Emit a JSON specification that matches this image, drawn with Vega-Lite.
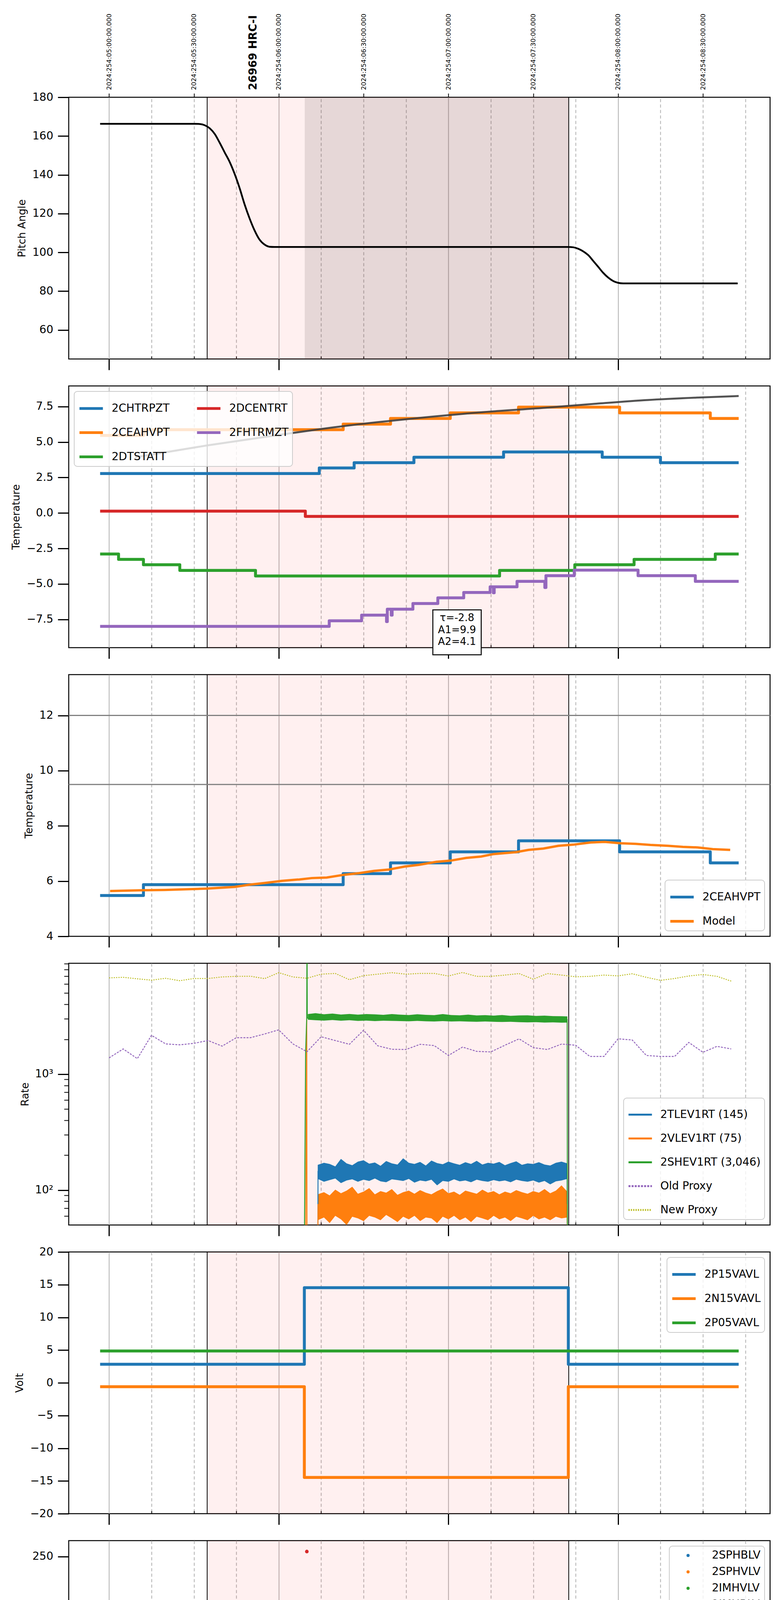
{
  "$schema": "https://vega.github.io/schema/vega-lite/v6.json",
  "padding": {"left": 26, "top": 33, "right": 10, "bottom": 5},
  "spacing": 69,
  "bounds": "flush",
  "resolve": {"scale": {"color": "independent", "strokeDash": "independent", "x": "independent", "y": "independent"}},
  "datasets": {
    "span": [{"t": 94.7, "t2": 222.55}],
    "dark": [{"t": 129.2, "t2": 222.55}],
    "edges": [{"t": 94.7}, {"t": 222.55}],
    "obs": [{"t": 111.1, "v": 183.7, "label": "26969 HRC-I"}],
    "pitch": [
      {"t": 56.84, "v": 166.3}, {"t": 90.3, "v": 166.3}, {"t": 92.1, "v": 166.2}, {"t": 93.8, "v": 165.6},
      {"t": 95.6, "v": 164.0}, {"t": 97.4, "v": 161.0}, {"t": 99.1, "v": 156.6}, {"t": 100.9, "v": 151.5},
      {"t": 102.6, "v": 146.8}, {"t": 104.4, "v": 140.5}, {"t": 106.2, "v": 133.0}, {"t": 107.9, "v": 124.9},
      {"t": 109.7, "v": 117.5}, {"t": 111.4, "v": 111.5}, {"t": 113.2, "v": 106.6}, {"t": 115.0, "v": 104.0},
      {"t": 116.7, "v": 102.9}, {"t": 118.5, "v": 102.8}, {"t": 222.4, "v": 102.8}, {"t": 224.2, "v": 102.6},
      {"t": 226.0, "v": 101.8}, {"t": 227.7, "v": 100.5}, {"t": 229.5, "v": 98.5}, {"t": 231.2, "v": 95.6},
      {"t": 233.0, "v": 92.5}, {"t": 234.7, "v": 89.5}, {"t": 236.5, "v": 87.0}, {"t": 238.3, "v": 85.2},
      {"t": 240.0, "v": 84.3}, {"t": 241.8, "v": 84.0}, {"t": 282.3, "v": 84.0}
    ],
    "temps": [
      {"t": 56.84, "v": 2.78, "s": "2CHTRPZT"}, {"t": 134.34, "v": 3.17, "s": "2CHTRPZT"}, {"t": 146.67, "v": 3.54, "s": "2CHTRPZT"},
      {"t": 167.81, "v": 3.93, "s": "2CHTRPZT"}, {"t": 199.51, "v": 4.3, "s": "2CHTRPZT"}, {"t": 234.39, "v": 3.93, "s": "2CHTRPZT"},
      {"t": 254.99, "v": 3.54, "s": "2CHTRPZT"}, {"t": 282.65, "v": 3.54, "s": "2CHTRPZT"},
      {"t": 56.84, "v": 5.46, "s": "2CEAHVPT"}, {"t": 72.16, "v": 5.87, "s": "2CEAHVPT"}, {"t": 142.79, "v": 6.26, "s": "2CEAHVPT"},
      {"t": 159.53, "v": 6.66, "s": "2CEAHVPT"}, {"t": 180.66, "v": 7.05, "s": "2CEAHVPT"}, {"t": 204.8, "v": 7.46, "s": "2CEAHVPT"},
      {"t": 240.55, "v": 7.05, "s": "2CEAHVPT"}, {"t": 272.61, "v": 6.66, "s": "2CEAHVPT"}, {"t": 282.65, "v": 6.66, "s": "2CEAHVPT"},
      {"t": 56.84, "v": -2.89, "s": "2DTSTATT"}, {"t": 63.36, "v": -3.27, "s": "2DTSTATT"}, {"t": 72.16, "v": -3.65, "s": "2DTSTATT"},
      {"t": 85.02, "v": -4.05, "s": "2DTSTATT"}, {"t": 111.79, "v": -4.44, "s": "2DTSTATT"}, {"t": 198.1, "v": -4.05, "s": "2DTSTATT"},
      {"t": 224.7, "v": -3.65, "s": "2DTSTATT"}, {"t": 245.66, "v": -3.27, "s": "2DTSTATT"}, {"t": 274.37, "v": -2.89, "s": "2DTSTATT"},
      {"t": 282.65, "v": -2.89, "s": "2DTSTATT"},
      {"t": 56.84, "v": 0.13, "s": "2DCENTRT"}, {"t": 129.41, "v": -0.24, "s": "2DCENTRT"}, {"t": 282.65, "v": -0.24, "s": "2DCENTRT"},
      {"t": 56.84, "v": -7.99, "s": "2FHTRMZT"}, {"t": 137.86, "v": -7.6, "s": "2FHTRMZT"}, {"t": 149.31, "v": -7.2, "s": "2FHTRMZT"},
      {"t": 158.12, "v": -7.65, "s": "2FHTRMZT"}, {"t": 158.4, "v": -6.78, "s": "2FHTRMZT"}, {"t": 159.8, "v": -7.2, "s": "2FHTRMZT"},
      {"t": 160.1, "v": -6.78, "s": "2FHTRMZT"}, {"t": 167.45, "v": -6.38, "s": "2FHTRMZT"}, {"t": 176.26, "v": -5.98, "s": "2FHTRMZT"},
      {"t": 185.42, "v": -5.6, "s": "2FHTRMZT"}, {"t": 194.76, "v": -5.2, "s": "2FHTRMZT"}, {"t": 195.9, "v": -5.62, "s": "2FHTRMZT"},
      {"t": 196.2, "v": -5.2, "s": "2FHTRMZT"}, {"t": 204.27, "v": -4.82, "s": "2FHTRMZT"}, {"t": 214.1, "v": -5.25, "s": "2FHTRMZT"},
      {"t": 214.49, "v": -4.42, "s": "2FHTRMZT"}, {"t": 224.5, "v": -4.03, "s": "2FHTRMZT"}, {"t": 247.07, "v": -4.42, "s": "2FHTRMZT"},
      {"t": 267.32, "v": -4.82, "s": "2FHTRMZT"}, {"t": 282.65, "v": -4.82, "s": "2FHTRMZT"}
    ],
    "fit": [
      {"t": 69.17, "v": 3.92}, {"t": 94.71, "v": 4.76}, {"t": 121.13, "v": 5.53}, {"t": 144.91, "v": 6.17},
      {"t": 167.81, "v": 6.66}, {"t": 190.7, "v": 7.08}, {"t": 215.36, "v": 7.43}, {"t": 232.98, "v": 7.71},
      {"t": 250.59, "v": 7.96}, {"t": 268.21, "v": 8.13}, {"t": 282.65, "v": 8.24}
    ],
    "note": [{"t": 174.5, "t2": 191.6, "v": -6.83, "v2": -9.99, "tc": 183.05, "vc": -7.05, "label": "τ=-2.8\nA1=9.9\nA2=4.1"}],
    "limits": [{"v": 12}, {"v": 9.5}],
    "ceah": [
      {"t": 56.84, "v": 5.48, "s": "2CEAHVPT"}, {"t": 72.16, "v": 5.87, "s": "2CEAHVPT"}, {"t": 142.79, "v": 6.27, "s": "2CEAHVPT"},
      {"t": 159.53, "v": 6.66, "s": "2CEAHVPT"}, {"t": 180.66, "v": 7.06, "s": "2CEAHVPT"}, {"t": 204.8, "v": 7.46, "s": "2CEAHVPT"},
      {"t": 240.55, "v": 7.06, "s": "2CEAHVPT"}, {"t": 272.61, "v": 6.66, "s": "2CEAHVPT"}, {"t": 282.65, "v": 6.66, "s": "2CEAHVPT"},
      {"t": 60.36, "v": 5.64, "s": "Model"}, {"t": 72.16, "v": 5.67, "s": "Model"}, {"t": 79.74, "v": 5.68, "s": "Model"},
      {"t": 94.71, "v": 5.73, "s": "Model"}, {"t": 104.4, "v": 5.79, "s": "Model"}, {"t": 109.68, "v": 5.87, "s": "Model"},
      {"t": 114.96, "v": 5.93, "s": "Model"}, {"t": 121.13, "v": 6.01, "s": "Model"}, {"t": 127.29, "v": 6.06, "s": "Model"},
      {"t": 131.7, "v": 6.11, "s": "Model"}, {"t": 136.98, "v": 6.13, "s": "Model"}, {"t": 143.14, "v": 6.23, "s": "Model"},
      {"t": 148.43, "v": 6.29, "s": "Model"}, {"t": 153.72, "v": 6.37, "s": "Model"}, {"t": 159.0, "v": 6.42, "s": "Model"},
      {"t": 164.64, "v": 6.53, "s": "Model"}, {"t": 169.57, "v": 6.59, "s": "Model"}, {"t": 175.73, "v": 6.7, "s": "Model"},
      {"t": 180.66, "v": 6.74, "s": "Model"}, {"t": 186.3, "v": 6.84, "s": "Model"}, {"t": 191.58, "v": 6.89, "s": "Model"},
      {"t": 195.99, "v": 6.98, "s": "Model"}, {"t": 203.9, "v": 7.05, "s": "Model"}, {"t": 208.32, "v": 7.13, "s": "Model"},
      {"t": 213.6, "v": 7.18, "s": "Model"}, {"t": 218.89, "v": 7.28, "s": "Model"}, {"t": 224.17, "v": 7.32, "s": "Model"},
      {"t": 230.33, "v": 7.4, "s": "Model"}, {"t": 235.27, "v": 7.42, "s": "Model"}, {"t": 240.9, "v": 7.37, "s": "Model"},
      {"t": 246.19, "v": 7.35, "s": "Model"}, {"t": 251.47, "v": 7.31, "s": "Model"}, {"t": 257.64, "v": 7.28, "s": "Model"},
      {"t": 262.92, "v": 7.24, "s": "Model"}, {"t": 268.21, "v": 7.22, "s": "Model"}, {"t": 273.49, "v": 7.16, "s": "Model"},
      {"t": 279.65, "v": 7.13, "s": "Model"}
    ],
    "bands": [
      {"t": 133.8, "hi": 165, "lo": 125, "s": "b"}, {"t": 136, "hi": 172, "lo": 118, "s": "b"}, {"t": 138, "hi": 168, "lo": 122, "s": "b"},
      {"t": 140, "hi": 160, "lo": 126, "s": "b"}, {"t": 142, "hi": 186, "lo": 115, "s": "b"}, {"t": 144, "hi": 170, "lo": 121, "s": "b"},
      {"t": 146, "hi": 164, "lo": 124, "s": "b"}, {"t": 148, "hi": 176, "lo": 118, "s": "b"}, {"t": 150, "hi": 181, "lo": 123, "s": "b"},
      {"t": 152, "hi": 169, "lo": 120, "s": "b"}, {"t": 154, "hi": 173, "lo": 126, "s": "b"}, {"t": 156, "hi": 162, "lo": 119, "s": "b"},
      {"t": 158, "hi": 178, "lo": 117, "s": "b"}, {"t": 160, "hi": 170, "lo": 124, "s": "b"}, {"t": 162, "hi": 166, "lo": 122, "s": "b"},
      {"t": 164, "hi": 188, "lo": 120, "s": "b"}, {"t": 166, "hi": 172, "lo": 125, "s": "b"}, {"t": 168, "hi": 168, "lo": 116, "s": "b"},
      {"t": 170, "hi": 175, "lo": 121, "s": "b"}, {"t": 172, "hi": 163, "lo": 119, "s": "b"}, {"t": 174, "hi": 180, "lo": 123, "s": "b"},
      {"t": 176, "hi": 171, "lo": 110, "s": "b"}, {"t": 178, "hi": 167, "lo": 120, "s": "b"}, {"t": 180, "hi": 176, "lo": 118, "s": "b"},
      {"t": 182, "hi": 170, "lo": 124, "s": "b"}, {"t": 184, "hi": 165, "lo": 119, "s": "b"}, {"t": 186, "hi": 174, "lo": 121, "s": "b"},
      {"t": 188, "hi": 168, "lo": 117, "s": "b"}, {"t": 190, "hi": 179, "lo": 123, "s": "b"}, {"t": 192, "hi": 166, "lo": 120, "s": "b"},
      {"t": 194, "hi": 172, "lo": 118, "s": "b"}, {"t": 196, "hi": 169, "lo": 122, "s": "b"}, {"t": 198, "hi": 175, "lo": 119, "s": "b"},
      {"t": 200, "hi": 164, "lo": 121, "s": "b"}, {"t": 202, "hi": 171, "lo": 117, "s": "b"}, {"t": 204, "hi": 177, "lo": 123, "s": "b"},
      {"t": 206, "hi": 165, "lo": 120, "s": "b"}, {"t": 208, "hi": 170, "lo": 118, "s": "b"}, {"t": 210, "hi": 168, "lo": 121, "s": "b"},
      {"t": 212, "hi": 174, "lo": 116, "s": "b"}, {"t": 214, "hi": 166, "lo": 120, "s": "b"}, {"t": 216, "hi": 163, "lo": 112, "s": "b"},
      {"t": 218, "hi": 172, "lo": 119, "s": "b"}, {"t": 220, "hi": 176, "lo": 121, "s": "b"}, {"t": 222.06, "hi": 170, "lo": 125, "s": "b"},
      {"t": 133.8, "hi": 92, "lo": 55, "s": "o"}, {"t": 136, "hi": 96, "lo": 58, "s": "o"}, {"t": 138, "hi": 90, "lo": 52, "s": "o"},
      {"t": 140, "hi": 101, "lo": 60, "s": "o"}, {"t": 142, "hi": 94, "lo": 56, "s": "o"}, {"t": 144, "hi": 99, "lo": 50, "s": "o"},
      {"t": 146, "hi": 107, "lo": 59, "s": "o"}, {"t": 148, "hi": 93, "lo": 57, "s": "o"}, {"t": 150, "hi": 97, "lo": 54, "s": "o"},
      {"t": 152, "hi": 104, "lo": 60, "s": "o"}, {"t": 154, "hi": 92, "lo": 58, "s": "o"}, {"t": 156, "hi": 98, "lo": 55, "s": "o"},
      {"t": 158, "hi": 95, "lo": 61, "s": "o"}, {"t": 160, "hi": 102, "lo": 57, "s": "o"}, {"t": 162, "hi": 91, "lo": 53, "s": "o"},
      {"t": 164, "hi": 96, "lo": 59, "s": "o"}, {"t": 166, "hi": 99, "lo": 56, "s": "o"}, {"t": 168, "hi": 93, "lo": 60, "s": "o"},
      {"t": 170, "hi": 100, "lo": 54, "s": "o"}, {"t": 172, "hi": 95, "lo": 58, "s": "o"}, {"t": 174, "hi": 92, "lo": 57, "s": "o"},
      {"t": 176, "hi": 98, "lo": 52, "s": "o"}, {"t": 178, "hi": 103, "lo": 59, "s": "o"}, {"t": 180, "hi": 94, "lo": 56, "s": "o"},
      {"t": 182, "hi": 97, "lo": 60, "s": "o"}, {"t": 184, "hi": 91, "lo": 55, "s": "o"}, {"t": 186, "hi": 99, "lo": 58, "s": "o"},
      {"t": 188, "hi": 96, "lo": 53, "s": "o"}, {"t": 190, "hi": 93, "lo": 59, "s": "o"}, {"t": 192, "hi": 101, "lo": 57, "s": "o"},
      {"t": 194, "hi": 95, "lo": 55, "s": "o"}, {"t": 196, "hi": 98, "lo": 60, "s": "o"}, {"t": 198, "hi": 92, "lo": 56, "s": "o"},
      {"t": 200, "hi": 97, "lo": 58, "s": "o"}, {"t": 202, "hi": 94, "lo": 54, "s": "o"}, {"t": 204, "hi": 100, "lo": 59, "s": "o"},
      {"t": 206, "hi": 96, "lo": 57, "s": "o"}, {"t": 208, "hi": 93, "lo": 55, "s": "o"}, {"t": 210, "hi": 98, "lo": 60, "s": "o"},
      {"t": 212, "hi": 95, "lo": 56, "s": "o"}, {"t": 214, "hi": 102, "lo": 58, "s": "o"}, {"t": 216, "hi": 94, "lo": 55, "s": "o"},
      {"t": 218, "hi": 99, "lo": 59, "s": "o"}, {"t": 220, "hi": 110, "lo": 57, "s": "o"}, {"t": 222.06, "hi": 97, "lo": 58, "s": "o"},
      {"t": 130.3, "hi": 3300, "lo": 2950, "s": "g"}, {"t": 133, "hi": 3360, "lo": 2920, "s": "g"}, {"t": 136, "hi": 3290, "lo": 2900, "s": "g"},
      {"t": 139, "hi": 3330, "lo": 2930, "s": "g"}, {"t": 142, "hi": 3270, "lo": 2890, "s": "g"}, {"t": 145, "hi": 3310, "lo": 2920, "s": "g"},
      {"t": 148, "hi": 3260, "lo": 2880, "s": "g"}, {"t": 151, "hi": 3300, "lo": 2900, "s": "g"}, {"t": 154, "hi": 3280, "lo": 2870, "s": "g"},
      {"t": 157, "hi": 3250, "lo": 2890, "s": "g"}, {"t": 160, "hi": 3300, "lo": 2880, "s": "g"}, {"t": 163, "hi": 3260, "lo": 2870, "s": "g"},
      {"t": 166, "hi": 3240, "lo": 2860, "s": "g"}, {"t": 169, "hi": 3290, "lo": 2880, "s": "g"}, {"t": 172, "hi": 3250, "lo": 2860, "s": "g"},
      {"t": 175, "hi": 3230, "lo": 2850, "s": "g"}, {"t": 178, "hi": 3300, "lo": 2870, "s": "g"}, {"t": 181, "hi": 3240, "lo": 2850, "s": "g"},
      {"t": 184, "hi": 3220, "lo": 2860, "s": "g"}, {"t": 187, "hi": 3260, "lo": 2840, "s": "g"}, {"t": 190, "hi": 3210, "lo": 2830, "s": "g"},
      {"t": 193, "hi": 3230, "lo": 2850, "s": "g"}, {"t": 196, "hi": 3200, "lo": 2830, "s": "g"}, {"t": 199, "hi": 3240, "lo": 2820, "s": "g"},
      {"t": 202, "hi": 3190, "lo": 2830, "s": "g"}, {"t": 205, "hi": 3210, "lo": 2810, "s": "g"}, {"t": 208, "hi": 3220, "lo": 2800, "s": "g"},
      {"t": 211, "hi": 3180, "lo": 2810, "s": "g"}, {"t": 214, "hi": 3200, "lo": 2790, "s": "g"}, {"t": 217, "hi": 3170, "lo": 2800, "s": "g"},
      {"t": 220, "hi": 3160, "lo": 2780, "s": "g"}, {"t": 222.06, "hi": 3150, "lo": 2790, "s": "g"}
    ],
    "rate": [
      {"t": 133.81, "v": 30, "s": "2TLEV1RT (145)"}, {"t": 133.9, "v": 145, "s": "2TLEV1RT (145)"}, {"t": 222.0, "v": 145, "s": "2TLEV1RT (145)"}, {"t": 222.1, "v": 30, "s": "2TLEV1RT (145)"},
      {"t": 129.5, "v": 30, "s": "2VLEV1RT (75)"}, {"t": 129.9, "v": 2950, "s": "2VLEV1RT (75)"}, {"t": 130.0, "v": 30, "s": "2VLEV1RT (75)"}, {"t": 133.81, "v": 30, "s": "2VLEV1RT (75)"},
      {"t": 133.9, "v": 75, "s": "2VLEV1RT (75)"}, {"t": 222.0, "v": 75, "s": "2VLEV1RT (75)"}, {"t": 222.1, "v": 30, "s": "2VLEV1RT (75)"},
      {"t": 129.06, "v": 30, "s": "2SHEV1RT (3,046)"}, {"t": 129.5, "v": 1500, "s": "2SHEV1RT (3,046)"}, {"t": 129.9, "v": 3100, "s": "2SHEV1RT (3,046)"},
      {"t": 130.0, "v": 20000, "s": "2SHEV1RT (3,046)"}, {"t": 130.1, "v": 3050, "s": "2SHEV1RT (3,046)"}, {"t": 222.0, "v": 2960, "s": "2SHEV1RT (3,046)"},
      {"t": 222.1, "v": 30, "s": "2SHEV1RT (3,046)"},
      {"t": 60, "v": 1381, "s": "Old Proxy"}, {"t": 65, "v": 1651, "s": "Old Proxy"}, {"t": 70, "v": 1361, "s": "Old Proxy"}, {"t": 75, "v": 2164, "s": "Old Proxy"},
      {"t": 80, "v": 1825, "s": "Old Proxy"}, {"t": 85, "v": 1791, "s": "Old Proxy"}, {"t": 90, "v": 1846, "s": "Old Proxy"}, {"t": 95, "v": 1951, "s": "Old Proxy"},
      {"t": 100, "v": 1746, "s": "Old Proxy"}, {"t": 105, "v": 2064, "s": "Old Proxy"}, {"t": 110, "v": 2064, "s": "Old Proxy"}, {"t": 115, "v": 2222, "s": "Old Proxy"},
      {"t": 120, "v": 2411, "s": "Old Proxy"}, {"t": 125, "v": 1825, "s": "Old Proxy"}, {"t": 130, "v": 1562, "s": "Old Proxy"}, {"t": 135, "v": 2102, "s": "Old Proxy"},
      {"t": 140, "v": 1951, "s": "Old Proxy"}, {"t": 145, "v": 1811, "s": "Old Proxy"}, {"t": 150, "v": 2393, "s": "Old Proxy"}, {"t": 155, "v": 1758, "s": "Old Proxy"},
      {"t": 160, "v": 1640, "s": "Old Proxy"}, {"t": 165, "v": 1633, "s": "Old Proxy"}, {"t": 170, "v": 1811, "s": "Old Proxy"}, {"t": 175, "v": 1765, "s": "Old Proxy"},
      {"t": 180, "v": 1450, "s": "Old Proxy"}, {"t": 185, "v": 1713, "s": "Old Proxy"}, {"t": 190, "v": 1573, "s": "Old Proxy"}, {"t": 195, "v": 1556, "s": "Old Proxy"},
      {"t": 200, "v": 1778, "s": "Old Proxy"}, {"t": 205, "v": 2018, "s": "Old Proxy"}, {"t": 210, "v": 1694, "s": "Old Proxy"}, {"t": 215, "v": 1633, "s": "Old Proxy"},
      {"t": 220, "v": 1818, "s": "Old Proxy"}, {"t": 225, "v": 1778, "s": "Old Proxy"}, {"t": 230, "v": 1423, "s": "Old Proxy"}, {"t": 235, "v": 1423, "s": "Old Proxy"},
      {"t": 240, "v": 2018, "s": "Old Proxy"}, {"t": 245, "v": 1973, "s": "Old Proxy"}, {"t": 250, "v": 1450, "s": "Old Proxy"}, {"t": 255, "v": 1423, "s": "Old Proxy"},
      {"t": 260, "v": 1423, "s": "Old Proxy"}, {"t": 265, "v": 1879, "s": "Old Proxy"}, {"t": 270, "v": 1545, "s": "Old Proxy"}, {"t": 275, "v": 1738, "s": "Old Proxy"},
      {"t": 280, "v": 1651, "s": "Old Proxy"},
      {"t": 60, "v": 6770, "s": "New Proxy"}, {"t": 65, "v": 6850, "s": "New Proxy"}, {"t": 70, "v": 6650, "s": "New Proxy"}, {"t": 75, "v": 6470, "s": "New Proxy"},
      {"t": 80, "v": 6720, "s": "New Proxy"}, {"t": 85, "v": 6400, "s": "New Proxy"}, {"t": 90, "v": 6690, "s": "New Proxy"}, {"t": 95, "v": 6690, "s": "New Proxy"},
      {"t": 100, "v": 6900, "s": "New Proxy"}, {"t": 105, "v": 6980, "s": "New Proxy"}, {"t": 110, "v": 7000, "s": "New Proxy"}, {"t": 115, "v": 6670, "s": "New Proxy"},
      {"t": 120, "v": 7510, "s": "New Proxy"}, {"t": 125, "v": 6900, "s": "New Proxy"}, {"t": 130, "v": 6720, "s": "New Proxy"}, {"t": 135, "v": 7290, "s": "New Proxy"},
      {"t": 140, "v": 7400, "s": "New Proxy"}, {"t": 145, "v": 6530, "s": "New Proxy"}, {"t": 150, "v": 7080, "s": "New Proxy"}, {"t": 155, "v": 7290, "s": "New Proxy"},
      {"t": 160, "v": 7510, "s": "New Proxy"}, {"t": 165, "v": 7290, "s": "New Proxy"}, {"t": 170, "v": 7400, "s": "New Proxy"}, {"t": 175, "v": 7400, "s": "New Proxy"},
      {"t": 180, "v": 7030, "s": "New Proxy"}, {"t": 185, "v": 7540, "s": "New Proxy"}, {"t": 190, "v": 6980, "s": "New Proxy"}, {"t": 195, "v": 6980, "s": "New Proxy"},
      {"t": 200, "v": 7160, "s": "New Proxy"}, {"t": 205, "v": 7380, "s": "New Proxy"}, {"t": 210, "v": 6600, "s": "New Proxy"}, {"t": 215, "v": 7380, "s": "New Proxy"},
      {"t": 220, "v": 7160, "s": "New Proxy"}, {"t": 225, "v": 6920, "s": "New Proxy"}, {"t": 230, "v": 6980, "s": "New Proxy"}, {"t": 235, "v": 7160, "s": "New Proxy"},
      {"t": 240, "v": 7050, "s": "New Proxy"}, {"t": 245, "v": 7350, "s": "New Proxy"}, {"t": 250, "v": 6850, "s": "New Proxy"}, {"t": 255, "v": 6450, "s": "New Proxy"},
      {"t": 260, "v": 6690, "s": "New Proxy"}, {"t": 265, "v": 7030, "s": "New Proxy"}, {"t": 270, "v": 7240, "s": "New Proxy"}, {"t": 275, "v": 6980, "s": "New Proxy"},
      {"t": 280, "v": 6350, "s": "New Proxy"}
    ],
    "volt": [
      {"t": 56.84, "v": 2.83, "s": "2P15VAVL"}, {"t": 129.06, "v": 14.54, "s": "2P15VAVL"}, {"t": 222.41, "v": 2.83, "s": "2P15VAVL"}, {"t": 282.65, "v": 2.83, "s": "2P15VAVL"},
      {"t": 56.84, "v": -0.6, "s": "2N15VAVL"}, {"t": 129.06, "v": -14.46, "s": "2N15VAVL"}, {"t": 222.41, "v": -0.6, "s": "2N15VAVL"}, {"t": 282.65, "v": -0.6, "s": "2N15VAVL"},
      {"t": 56.84, "v": 4.86, "s": "2P05VAVL"}, {"t": 282.65, "v": 4.86, "s": "2P05VAVL"}
    ],
    "hvband": [
      {"t": 134.34, "v": 79.3, "s": "g"}, {"t": 222.6, "v": 79.3, "s": "g"},
      {"t": 134.34, "v": 85.9, "s": "r"}, {"t": 222.6, "v": 85.9, "s": "r"}
    ],
    "hvpts": [
      {"t": 130.64, "v": 99.4, "s": "2IMHVLV"}, {"t": 130.9, "v": 98, "s": "2IMHVLV"}, {"t": 131.35, "v": 95.6, "s": "2IMHVLV"},
      {"t": 131.7, "v": 92.8, "s": "2IMHVLV"}, {"t": 132.06, "v": 90.2, "s": "2IMHVLV"}, {"t": 132.4, "v": 88, "s": "2IMHVLV"},
      {"t": 132.58, "v": 86, "s": "2IMHVLV"}, {"t": 133.0, "v": 84, "s": "2IMHVLV"}, {"t": 133.46, "v": 82.3, "s": "2IMHVLV"},
      {"t": 133.9, "v": 80.2, "s": "2IMHVLV"}, {"t": 134.34, "v": 78.8, "s": "2IMHVLV"},
      {"t": 207.09, "v": 126.9, "s": "2IMHVLV"}, {"t": 209.2, "v": 126.9, "s": "2IMHVLV"}, {"t": 213.25, "v": 126.9, "s": "2IMHVLV"},
      {"t": 218.0, "v": 126.9, "s": "2IMHVLV"}, {"t": 220.0, "v": 126.9, "s": "2IMHVLV"}, {"t": 221.0, "v": 126.9, "s": "2IMHVLV"},
      {"t": 129.94, "v": 255, "s": "2IMHBLV"}, {"t": 130.64, "v": 126.9, "s": "2IMHBLV"}, {"t": 130.7, "v": 124.5, "s": "2IMHBLV"},
      {"t": 130.75, "v": 118.9, "s": "2IMHBLV"}, {"t": 130.9, "v": 106, "s": "2IMHBLV"}, {"t": 131.05, "v": 104.5, "s": "2IMHBLV"},
      {"t": 131.35, "v": 102.5, "s": "2IMHBLV"}, {"t": 131.7, "v": 101, "s": "2IMHBLV"}, {"t": 132.0, "v": 98.5, "s": "2IMHBLV"},
      {"t": 132.23, "v": 97, "s": "2IMHBLV"}, {"t": 132.5, "v": 94.5, "s": "2IMHBLV"}, {"t": 132.76, "v": 92.7, "s": "2IMHBLV"},
      {"t": 133.1, "v": 91, "s": "2IMHBLV"}, {"t": 133.46, "v": 89.5, "s": "2IMHBLV"}, {"t": 133.8, "v": 87.8, "s": "2IMHBLV"},
      {"t": 134.1, "v": 86.8, "s": "2IMHBLV"},
      {"t": 207.09, "v": 79, "s": "2IMHBLV"}, {"t": 209.2, "v": 79, "s": "2IMHBLV"}, {"t": 213.25, "v": 79, "s": "2IMHBLV"},
      {"t": 218.0, "v": 79, "s": "2IMHBLV"}, {"t": 220.3, "v": 79, "s": "2IMHBLV"}, {"t": 221.2, "v": 79, "s": "2IMHBLV"}
    ],
    "det": [
      {"t": 130.29, "v": 1.74, "s": "2SPINATM"}, {"t": 130.82, "v": 1.18, "s": "2SPINATM"}, {"t": 131.0, "v": 1.74, "s": "2SPINATM"},
      {"t": 169.57, "v": 1.18, "s": "2SPINATM"}, {"t": 169.8, "v": 1.74, "s": "2SPINATM"}, {"t": 206.9, "v": -5, "s": "2SPINATM"},
      {"t": 207.1, "v": 1.74, "s": "2SPINATM"}, {"t": 208.6, "v": -5, "s": "2SPINATM"}, {"t": 208.8, "v": 1.74, "s": "2SPINATM"},
      {"t": 209.3, "v": -5, "s": "2SPINATM"}, {"t": 209.5, "v": 1.74, "s": "2SPINATM"}, {"t": 215.0, "v": -5, "s": "2SPINATM"},
      {"t": 215.3, "v": 1.74, "s": "2SPINATM"}, {"t": 215.6, "v": -5, "s": "2SPINATM"}, {"t": 215.9, "v": 1.74, "s": "2SPINATM"},
      {"t": 216.2, "v": -5, "s": "2SPINATM"}, {"t": 216.5, "v": 1.74, "s": "2SPINATM"}, {"t": 216.8, "v": -5, "s": "2SPINATM"},
      {"t": 217.1, "v": 1.74, "s": "2SPINATM"}, {"t": 217.4, "v": -5, "s": "2SPINATM"}, {"t": 217.7, "v": 1.74, "s": "2SPINATM"},
      {"t": 218.0, "v": -5, "s": "2SPINATM"}, {"t": 218.3, "v": 1.74, "s": "2SPINATM"}, {"t": 218.6, "v": -5, "s": "2SPINATM"},
      {"t": 218.9, "v": 1.74, "s": "2SPINATM"}, {"t": 219.2, "v": -5, "s": "2SPINATM"}, {"t": 219.5, "v": 1.74, "s": "2SPINATM"},
      {"t": 219.8, "v": -5, "s": "2SPINATM"}, {"t": 220.1, "v": 1.74, "s": "2SPINATM"}, {"t": 220.4, "v": -5, "s": "2SPINATM"},
      {"t": 220.7, "v": 1.74, "s": "2SPINATM"}, {"t": 221.0, "v": -5, "s": "2SPINATM"}, {"t": 221.3, "v": 1.74, "s": "2SPINATM"},
      {"t": 221.6, "v": -5, "s": "2SPINATM"}, {"t": 221.9, "v": -5, "s": "2SPINATM"},
      {"t": 129.41, "v": 13.44, "s": "2SPHVATM"}, {"t": 129.6, "v": 13.98, "s": "2SPHVATM"}, {"t": 167.81, "v": 14.31, "s": "2SPHVATM"},
      {"t": 193.35, "v": 14.65, "s": "2SPHVATM"}, {"t": 206.56, "v": 8.61, "s": "2SPHVATM"}, {"t": 206.9, "v": 14.65, "s": "2SPHVATM"},
      {"t": 207.4, "v": 8.61, "s": "2SPHVATM"}, {"t": 207.7, "v": 14.65, "s": "2SPHVATM"}, {"t": 208.7, "v": 8.61, "s": "2SPHVATM"},
      {"t": 209.0, "v": 14.65, "s": "2SPHVATM"}, {"t": 209.4, "v": 8.61, "s": "2SPHVATM"}, {"t": 209.7, "v": 14.65, "s": "2SPHVATM"},
      {"t": 211.8, "v": 8.61, "s": "2SPHVATM"}, {"t": 212.1, "v": 14.65, "s": "2SPHVATM"}, {"t": 212.5, "v": 8.61, "s": "2SPHVATM"},
      {"t": 212.8, "v": 14.65, "s": "2SPHVATM"}, {"t": 213.4, "v": 8.61, "s": "2SPHVATM"}, {"t": 213.6, "v": -5, "s": "2SPHVATM"},
      {"t": 213.8, "v": 8.61, "s": "2SPHVATM"}, {"t": 214.1, "v": 14.65, "s": "2SPHVATM"}, {"t": 215.2, "v": 8.61, "s": "2SPHVATM"},
      {"t": 215.5, "v": 14.65, "s": "2SPHVATM"}, {"t": 215.8, "v": 8.61, "s": "2SPHVATM"}, {"t": 216.1, "v": 14.65, "s": "2SPHVATM"},
      {"t": 216.4, "v": 8.61, "s": "2SPHVATM"}, {"t": 216.7, "v": 14.65, "s": "2SPHVATM"}, {"t": 217.0, "v": 8.61, "s": "2SPHVATM"},
      {"t": 217.3, "v": 14.65, "s": "2SPHVATM"}, {"t": 217.6, "v": 8.61, "s": "2SPHVATM"}, {"t": 217.9, "v": 14.65, "s": "2SPHVATM"},
      {"t": 218.2, "v": 8.61, "s": "2SPHVATM"}, {"t": 218.5, "v": 14.65, "s": "2SPHVATM"}, {"t": 218.8, "v": 8.61, "s": "2SPHVATM"},
      {"t": 219.1, "v": 14.65, "s": "2SPHVATM"}, {"t": 219.4, "v": 8.61, "s": "2SPHVATM"}, {"t": 219.7, "v": 14.65, "s": "2SPHVATM"},
      {"t": 220.0, "v": 8.61, "s": "2SPHVATM"}, {"t": 220.3, "v": 14.65, "s": "2SPHVATM"}, {"t": 220.6, "v": 8.61, "s": "2SPHVATM"},
      {"t": 220.9, "v": 14.65, "s": "2SPHVATM"}, {"t": 221.2, "v": 8.61, "s": "2SPHVATM"}, {"t": 221.5, "v": 14.65, "s": "2SPHVATM"},
      {"t": 221.8, "v": 8.61, "s": "2SPHVATM"}, {"t": 222.06, "v": 8.61, "s": "2SPHVATM"},
      {"t": 130.29, "v": -0.97, "s": "2IMINATM"}, {"t": 163.4, "v": -0.45, "s": "2IMINATM"}, {"t": 163.6, "v": -0.97, "s": "2IMINATM"},
      {"t": 163.93, "v": -0.5, "s": "2IMINATM"}, {"t": 206.9, "v": 1.84, "s": "2IMINATM"}, {"t": 207.1, "v": -0.5, "s": "2IMINATM"},
      {"t": 207.9, "v": 1.84, "s": "2IMINATM"}, {"t": 208.1, "v": -0.5, "s": "2IMINATM"}, {"t": 209.3, "v": 1.84, "s": "2IMINATM"},
      {"t": 209.5, "v": -0.5, "s": "2IMINATM"}, {"t": 211.5, "v": 1.84, "s": "2IMINATM"}, {"t": 211.8, "v": -0.5, "s": "2IMINATM"},
      {"t": 212.2, "v": 1.84, "s": "2IMINATM"}, {"t": 212.5, "v": -0.5, "s": "2IMINATM"}, {"t": 212.9, "v": 1.84, "s": "2IMINATM"},
      {"t": 213.2, "v": -0.5, "s": "2IMINATM"}, {"t": 213.6, "v": 1.84, "s": "2IMINATM"}, {"t": 213.9, "v": -0.5, "s": "2IMINATM"},
      {"t": 215.0, "v": 1.84, "s": "2IMINATM"}, {"t": 215.3, "v": -0.5, "s": "2IMINATM"}, {"t": 215.6, "v": 1.84, "s": "2IMINATM"},
      {"t": 215.9, "v": -0.5, "s": "2IMINATM"}, {"t": 216.2, "v": 1.84, "s": "2IMINATM"}, {"t": 216.5, "v": -0.5, "s": "2IMINATM"},
      {"t": 216.8, "v": 1.84, "s": "2IMINATM"}, {"t": 217.1, "v": -0.5, "s": "2IMINATM"}, {"t": 217.4, "v": 1.84, "s": "2IMINATM"},
      {"t": 217.7, "v": -0.5, "s": "2IMINATM"}, {"t": 218.0, "v": 1.84, "s": "2IMINATM"}, {"t": 218.3, "v": -0.5, "s": "2IMINATM"},
      {"t": 218.6, "v": 1.84, "s": "2IMINATM"}, {"t": 218.9, "v": -0.5, "s": "2IMINATM"}, {"t": 219.2, "v": 1.84, "s": "2IMINATM"},
      {"t": 219.5, "v": -0.5, "s": "2IMINATM"}, {"t": 219.8, "v": 1.84, "s": "2IMINATM"}, {"t": 220.1, "v": -0.5, "s": "2IMINATM"},
      {"t": 220.4, "v": 1.84, "s": "2IMINATM"}, {"t": 220.7, "v": -0.5, "s": "2IMINATM"}, {"t": 221.0, "v": 1.84, "s": "2IMINATM"},
      {"t": 221.3, "v": -0.5, "s": "2IMINATM"}, {"t": 221.6, "v": 1.84, "s": "2IMINATM"}, {"t": 221.9, "v": -0.5, "s": "2IMINATM"},
      {"t": 222.06, "v": -0.5, "s": "2IMINATM"},
      {"t": 129.41, "v": -5, "s": "2IMHVATM"}, {"t": 129.5, "v": 13.3, "s": "2IMHVATM"}, {"t": 138.74, "v": 13.68, "s": "2IMHVATM"},
      {"t": 145.79, "v": 14.0, "s": "2IMHVATM"}, {"t": 151.95, "v": 14.36, "s": "2IMHVATM"}, {"t": 159.0, "v": 14.68, "s": "2IMHVATM"},
      {"t": 167.1, "v": 15.03, "s": "2IMHVATM"}, {"t": 176.61, "v": 15.34, "s": "2IMHVATM"}, {"t": 186.83, "v": 15.69, "s": "2IMHVATM"},
      {"t": 199.16, "v": 16.0, "s": "2IMHVATM"}, {"t": 206.56, "v": 14.6, "s": "2IMHVATM"}, {"t": 206.8, "v": 16.0, "s": "2IMHVATM"},
      {"t": 208.5, "v": 14.6, "s": "2IMHVATM"}, {"t": 208.7, "v": 16.0, "s": "2IMHVATM"}, {"t": 210.6, "v": 14.6, "s": "2IMHVATM"},
      {"t": 210.8, "v": 16.0, "s": "2IMHVATM"}, {"t": 212.72, "v": 16.43, "s": "2IMHVATM"}, {"t": 213.3, "v": 14.7, "s": "2IMHVATM"},
      {"t": 213.6, "v": 16.43, "s": "2IMHVATM"}, {"t": 214.0, "v": 14.7, "s": "2IMHVATM"}, {"t": 214.3, "v": 16.43, "s": "2IMHVATM"},
      {"t": 215.0, "v": 14.7, "s": "2IMHVATM"}, {"t": 215.3, "v": 16.43, "s": "2IMHVATM"}, {"t": 216.6, "v": 14.6, "s": "2IMHVATM"},
      {"t": 216.9, "v": 16.43, "s": "2IMHVATM"}, {"t": 217.5, "v": 14.8, "s": "2IMHVATM"}, {"t": 217.8, "v": 16.43, "s": "2IMHVATM"},
      {"t": 218.2, "v": 14.8, "s": "2IMHVATM"}, {"t": 218.5, "v": 16.43, "s": "2IMHVATM"}, {"t": 218.9, "v": 14.8, "s": "2IMHVATM"},
      {"t": 219.2, "v": 16.43, "s": "2IMHVATM"}, {"t": 219.6, "v": 14.8, "s": "2IMHVATM"}, {"t": 219.9, "v": 16.43, "s": "2IMHVATM"},
      {"t": 220.3, "v": 14.8, "s": "2IMHVATM"}, {"t": 220.6, "v": 16.43, "s": "2IMHVATM"}, {"t": 221.0, "v": 14.8, "s": "2IMHVATM"},
      {"t": 221.3, "v": 16.43, "s": "2IMHVATM"}, {"t": 221.7, "v": 14.8, "s": "2IMHVATM"}, {"t": 222.0, "v": 16.43, "s": "2IMHVATM"},
      {"t": 222.6, "v": 20, "s": "2IMHVATM"}, {"t": 222.9, "v": -5, "s": "2IMHVATM"}, {"t": 223.0, "v": -5, "s": "2IMHVATM"}
    ],
    "fea": [
      {"t": 56.84, "v": -7.99, "s": "2FHTRMZT"}, {"t": 137.86, "v": -7.6, "s": "2FHTRMZT"}, {"t": 149.31, "v": -7.2, "s": "2FHTRMZT"},
      {"t": 158.12, "v": -7.65, "s": "2FHTRMZT"}, {"t": 158.4, "v": -6.78, "s": "2FHTRMZT"}, {"t": 159.8, "v": -7.2, "s": "2FHTRMZT"},
      {"t": 160.1, "v": -6.78, "s": "2FHTRMZT"}, {"t": 167.45, "v": -6.38, "s": "2FHTRMZT"}, {"t": 176.26, "v": -5.98, "s": "2FHTRMZT"},
      {"t": 185.42, "v": -5.6, "s": "2FHTRMZT"}, {"t": 194.76, "v": -5.2, "s": "2FHTRMZT"}, {"t": 195.9, "v": -5.62, "s": "2FHTRMZT"},
      {"t": 196.2, "v": -5.2, "s": "2FHTRMZT"}, {"t": 204.27, "v": -4.82, "s": "2FHTRMZT"}, {"t": 214.1, "v": -5.25, "s": "2FHTRMZT"},
      {"t": 214.49, "v": -4.42, "s": "2FHTRMZT"}, {"t": 224.3, "v": -4.04, "s": "2FHTRMZT"}, {"t": 246.72, "v": -4.42, "s": "2FHTRMZT"},
      {"t": 267.32, "v": -4.82, "s": "2FHTRMZT"}, {"t": 282.65, "v": -4.82, "s": "2FHTRMZT"},
      {"t": 56.84, "v": -9.65, "s": "2FRADPYT"}, {"t": 104.92, "v": -9.22, "s": "2FRADPYT"}, {"t": 109.68, "v": -9.65, "s": "2FRADPYT"},
      {"t": 127.29, "v": -10.06, "s": "2FRADPYT"}, {"t": 138.39, "v": -9.65, "s": "2FRADPYT"}, {"t": 149.84, "v": -9.22, "s": "2FRADPYT"},
      {"t": 159.88, "v": -8.81, "s": "2FRADPYT"}, {"t": 169.57, "v": -8.41, "s": "2FRADPYT"}, {"t": 179.78, "v": -8.0, "s": "2FRADPYT"},
      {"t": 190.17, "v": -7.59, "s": "2FRADPYT"}, {"t": 200.75, "v": -7.18, "s": "2FRADPYT"}, {"t": 211.32, "v": -6.79, "s": "2FRADPYT"},
      {"t": 222.06, "v": -6.39, "s": "2FRADPYT"}, {"t": 235.27, "v": -6.79, "s": "2FRADPYT"}, {"t": 250.24, "v": -7.18, "s": "2FRADPYT"},
      {"t": 266.09, "v": -7.59, "s": "2FRADPYT"}, {"t": 282.65, "v": -7.59, "s": "2FRADPYT"},
      {"t": 129.06, "v": -8.89, "s": "2FEPRATM"}, {"t": 129.3, "v": -8.13, "s": "2FEPRATM"}, {"t": 132.23, "v": -7.71, "s": "2FEPRATM"},
      {"t": 134.69, "v": -7.28, "s": "2FEPRATM"}, {"t": 137.51, "v": -6.86, "s": "2FEPRATM"}, {"t": 141.03, "v": -6.46, "s": "2FEPRATM"},
      {"t": 145.79, "v": -6.06, "s": "2FEPRATM"}, {"t": 151.07, "v": -5.61, "s": "2FEPRATM"}, {"t": 157.59, "v": -5.2, "s": "2FEPRATM"},
      {"t": 164.81, "v": -4.8, "s": "2FEPRATM"}, {"t": 172.74, "v": -4.38, "s": "2FEPRATM"}, {"t": 181.19, "v": -3.96, "s": "2FEPRATM"},
      {"t": 190.7, "v": -3.54, "s": "2FEPRATM"}, {"t": 200.04, "v": -3.12, "s": "2FEPRATM"}, {"t": 206.56, "v": -6.08, "s": "2FEPRATM"},
      {"t": 206.8, "v": -3.12, "s": "2FEPRATM"}, {"t": 208.8, "v": -6.08, "s": "2FEPRATM"}, {"t": 209.0, "v": -3.12, "s": "2FEPRATM"},
      {"t": 210.61, "v": -2.67, "s": "2FEPRATM"}, {"t": 211.8, "v": -6.08, "s": "2FEPRATM"}, {"t": 212.1, "v": -2.67, "s": "2FEPRATM"},
      {"t": 213.3, "v": -6.08, "s": "2FEPRATM"}, {"t": 213.6, "v": -2.67, "s": "2FEPRATM"}, {"t": 214.3, "v": -6.08, "s": "2FEPRATM"},
      {"t": 214.6, "v": -2.67, "s": "2FEPRATM"}, {"t": 215.2, "v": -6.08, "s": "2FEPRATM"}, {"t": 215.5, "v": -2.67, "s": "2FEPRATM"},
      {"t": 215.9, "v": -6.08, "s": "2FEPRATM"}, {"t": 216.2, "v": -2.67, "s": "2FEPRATM"}, {"t": 216.6, "v": -6.08, "s": "2FEPRATM"},
      {"t": 216.9, "v": -2.67, "s": "2FEPRATM"}, {"t": 217.3, "v": -6.08, "s": "2FEPRATM"}, {"t": 217.6, "v": -2.67, "s": "2FEPRATM"},
      {"t": 218.0, "v": -6.08, "s": "2FEPRATM"}, {"t": 218.3, "v": -2.67, "s": "2FEPRATM"}, {"t": 218.7, "v": -6.08, "s": "2FEPRATM"},
      {"t": 219.0, "v": -2.67, "s": "2FEPRATM"}, {"t": 219.4, "v": -6.08, "s": "2FEPRATM"}, {"t": 219.7, "v": -2.67, "s": "2FEPRATM"},
      {"t": 220.1, "v": -6.08, "s": "2FEPRATM"}, {"t": 220.4, "v": -2.67, "s": "2FEPRATM"}, {"t": 220.8, "v": -6.08, "s": "2FEPRATM"},
      {"t": 221.1, "v": -2.67, "s": "2FEPRATM"}, {"t": 221.5, "v": -6.08, "s": "2FEPRATM"}, {"t": 221.8, "v": -2.67, "s": "2FEPRATM"},
      {"t": 222.06, "v": -6.08, "s": "2FEPRATM"}, {"t": 222.2, "v": -6.08, "s": "2FEPRATM"},
      {"t": 129.41, "v": -11.5, "s": "2FE00ATM"}, {"t": 129.6, "v": -8.94, "s": "2FE00ATM"}, {"t": 140.15, "v": -8.57, "s": "2FE00ATM"},
      {"t": 142.3, "v": -8.17, "s": "2FE00ATM"}, {"t": 142.6, "v": -8.57, "s": "2FE00ATM"}, {"t": 146.67, "v": -8.21, "s": "2FE00ATM"},
      {"t": 151.5, "v": -7.45, "s": "2FE00ATM"}, {"t": 151.8, "v": -8.21, "s": "2FE00ATM"}, {"t": 152.83, "v": -7.83, "s": "2FE00ATM"},
      {"t": 159.0, "v": -7.48, "s": "2FE00ATM"}, {"t": 165.7, "v": -7.12, "s": "2FE00ATM"}, {"t": 171.86, "v": -6.77, "s": "2FE00ATM"},
      {"t": 178.9, "v": -6.41, "s": "2FE00ATM"}, {"t": 185.95, "v": -6.06, "s": "2FE00ATM"}, {"t": 193.35, "v": -5.71, "s": "2FE00ATM"},
      {"t": 200.75, "v": -5.35, "s": "2FE00ATM"}, {"t": 201.3, "v": -4.63, "s": "2FE00ATM"}, {"t": 201.6, "v": -5.35, "s": "2FE00ATM"},
      {"t": 203.9, "v": -4.63, "s": "2FE00ATM"}, {"t": 204.2, "v": -5.35, "s": "2FE00ATM"}, {"t": 206.9, "v": -1.5, "s": "2FE00ATM"},
      {"t": 207.1, "v": -5.35, "s": "2FE00ATM"}, {"t": 208.32, "v": -5.0, "s": "2FE00ATM"}, {"t": 209.0, "v": -1.5, "s": "2FE00ATM"},
      {"t": 209.3, "v": -5.0, "s": "2FE00ATM"}, {"t": 209.6, "v": -1.5, "s": "2FE00ATM"}, {"t": 209.9, "v": -5.0, "s": "2FE00ATM"},
      {"t": 211.3, "v": -1.5, "s": "2FE00ATM"}, {"t": 211.6, "v": -4.75, "s": "2FE00ATM"}, {"t": 211.9, "v": -1.5, "s": "2FE00ATM"},
      {"t": 212.2, "v": -4.75, "s": "2FE00ATM"}, {"t": 212.5, "v": -1.5, "s": "2FE00ATM"}, {"t": 212.8, "v": -5.0, "s": "2FE00ATM"},
      {"t": 213.5, "v": -11.5, "s": "2FE00ATM"}, {"t": 213.7, "v": -1.5, "s": "2FE00ATM"}, {"t": 214.0, "v": -4.75, "s": "2FE00ATM"},
      {"t": 214.3, "v": -1.5, "s": "2FE00ATM"}, {"t": 214.6, "v": -4.75, "s": "2FE00ATM"}, {"t": 214.9, "v": -1.5, "s": "2FE00ATM"},
      {"t": 215.2, "v": -4.75, "s": "2FE00ATM"}, {"t": 215.5, "v": -1.5, "s": "2FE00ATM"}, {"t": 215.8, "v": -4.75, "s": "2FE00ATM"},
      {"t": 216.1, "v": -1.5, "s": "2FE00ATM"}, {"t": 216.4, "v": -5.0, "s": "2FE00ATM"}, {"t": 216.7, "v": -1.5, "s": "2FE00ATM"},
      {"t": 217.0, "v": -4.75, "s": "2FE00ATM"}, {"t": 217.3, "v": -1.5, "s": "2FE00ATM"}, {"t": 217.6, "v": -4.75, "s": "2FE00ATM"},
      {"t": 217.9, "v": -1.5, "s": "2FE00ATM"}, {"t": 218.2, "v": -4.75, "s": "2FE00ATM"}, {"t": 218.5, "v": -1.5, "s": "2FE00ATM"},
      {"t": 218.8, "v": -4.75, "s": "2FE00ATM"}, {"t": 219.1, "v": -1.5, "s": "2FE00ATM"}, {"t": 219.4, "v": -4.75, "s": "2FE00ATM"},
      {"t": 219.7, "v": -1.5, "s": "2FE00ATM"}, {"t": 220.0, "v": -4.75, "s": "2FE00ATM"}, {"t": 220.5, "v": -11.5, "s": "2FE00ATM"},
      {"t": 220.8, "v": -1.5, "s": "2FE00ATM"}, {"t": 221.1, "v": -4.75, "s": "2FE00ATM"}, {"t": 221.4, "v": -1.5, "s": "2FE00ATM"},
      {"t": 221.7, "v": -4.75, "s": "2FE00ATM"}, {"t": 222.1, "v": -11.5, "s": "2FE00ATM"}, {"t": 222.4, "v": -1.5, "s": "2FE00ATM"},
      {"t": 222.7, "v": -4.75, "s": "2FE00ATM"}, {"t": 223.0, "v": -1.5, "s": "2FE00ATM"}, {"t": 223.3, "v": -11.5, "s": "2FE00ATM"},
      {"t": 223.5, "v": -11.5, "s": "2FE00ATM"}
    ]
  },
  "vconcat": [
    {
      "width": 1796, "height": 670,
      "resolve": {"axis": {"x": "independent"}},
      "layer": [
        {"data": {"name": "span"}, "mark": {"type": "rect", "color": "#ff0000", "opacity": 0.06},
         "encoding": {"x": {"field": "t", "type": "quantitative", "scale": {"domain": [45.74, 293.75], "nice": false, "zero": false},
           "axis": {"values": [60, 75, 90, 105, 120, 135, 150, 165, 180, 195, 210, 225, 240, 255, 270, 285], "grid": true, "gridColor": "#b0b0b0", "gridWidth": 2,
             "gridDash": {"condition": {"test": "datum.value % 60 == 0", "value": [1, 0]}, "value": [8, 6]}, "domain": false, "tickColor": "black",
             "tickWidth": {"condition": {"test": "datum.value % 60 == 0", "value": 3}, "value": 2},
             "tickSize": {"condition": {"test": "datum.value % 60 == 0", "value": 28}, "value": -7}, "labels": false, "title": null}},
           "x2": {"field": "t2"}}},
        {"data": {"name": "dark"}, "mark": {"type": "rect", "color": "#5a4a4a", "opacity": 0.15},
         "encoding": {"x": {"field": "t", "type": "quantitative", "scale": {"domain": [45.74, 293.75], "nice": false, "zero": false}, "axis": null}, "x2": {"field": "t2"}}},
        {"data": {"name": "edges"}, "mark": {"type": "rule", "color": "black", "strokeWidth": 2},
         "encoding": {"x": {"field": "t", "type": "quantitative", "scale": {"domain": [45.74, 293.75], "nice": false, "zero": false}, "axis": null}}},
        {"data": {"name": "pitch"}, "mark": {"type": "line", "color": "black", "strokeWidth": 4.5, "interpolate": "monotone", "clip": true},
         "encoding": {
           "x": {"field": "t", "type": "quantitative", "scale": {"domain": [45.74, 293.75], "nice": false, "zero": false},
             "axis": {"orient": "top", "values": [60, 90, 120, 150, 180, 210, 240, 270], "grid": false, "domain": false, "tickColor": "black", "tickWidth": 2,
               "tickSize": 10, "labelPadding": 9, "labelAngle": -90, "labelFont": "DejaVu Sans", "labelFontSize": 16.5, "labelOverlap": false, "labelFlush": false, "labelLimit": 0,
               "labelExpr": "utcFormat(datum.value * 60000 + 14400000, '2024:254:%H:%M:%S.%L')", "title": null}},
           "y": {"field": "v", "type": "quantitative", "scale": {"domain": [45, 180], "nice": false, "zero": false},
             "axis": {"title": "Pitch Angle", "values": [60, 80, 100, 120, 140, 160, 180], "minExtent": 102, "maxExtent": 102}}}},
        {"data": {"name": "obs"}, "mark": {"type": "text", "angle": 270, "align": "left", "baseline": "middle", "font": "DejaVu Sans", "fontSize": 27.5, "fontWeight": "bold", "color": "black"},
         "encoding": {"x": {"field": "t", "type": "quantitative", "scale": {"domain": [45.74, 293.75], "nice": false, "zero": false}, "axis": null},
           "y": {"field": "v", "type": "quantitative", "scale": {"domain": [45, 180], "nice": false, "zero": false},
             "axis": {"title": "Pitch Angle", "values": [60, 80, 100, 120, 140, 160, 180], "minExtent": 102, "maxExtent": 102}},
           "text": {"field": "label"}}}
      ]
    },
    {
      "width": 1796, "height": 670,
      "encoding": {"x": {"field": "t", "type": "quantitative", "scale": {"domain": [45.74, 293.75], "nice": false, "zero": false},
        "axis": {"values": [60, 75, 90, 105, 120, 135, 150, 165, 180, 195, 210, 225, 240, 255, 270, 285], "grid": true, "gridColor": "#b0b0b0", "gridWidth": 2,
          "gridDash": {"condition": {"test": "datum.value % 60 == 0", "value": [1, 0]}, "value": [8, 6]}, "domain": false, "tickColor": "black",
          "tickWidth": {"condition": {"test": "datum.value % 60 == 0", "value": 3}, "value": 2},
          "tickSize": {"condition": {"test": "datum.value % 60 == 0", "value": 28}, "value": -7}, "labels": false, "title": null}}},
      "layer": [
        {"data": {"name": "span"}, "mark": {"type": "rect", "color": "#ff0000", "opacity": 0.06}, "encoding": {"x2": {"field": "t2"}}},
        {"data": {"name": "edges"}, "mark": {"type": "rule", "color": "black", "strokeWidth": 2}},
        {"data": {"name": "temps"}, "mark": {"type": "line", "strokeWidth": 7.5, "interpolate": "step-after", "strokeJoin": "round", "clip": true},
         "encoding": {
           "y": {"field": "v", "type": "quantitative", "scale": {"domain": [-9.49, 8.95], "nice": false, "zero": false},
             "axis": {"title": "Temperature", "values": [-7.5, -5, -2.5, 0, 2.5, 5, 7.5], "labelExpr": "format(datum.value, '.1f')", "minExtent": 117, "maxExtent": 117}},
           "color": {"field": "s", "type": "nominal",
             "scale": {"domain": ["2CHTRPZT", "2CEAHVPT", "2DTSTATT", "2DCENTRT", "2FHTRMZT"], "range": ["#1f77b4", "#ff7f0e", "#2ca02c", "#d62728", "#9467bd"]},
             "legend": {"orient": "top-left", "columns": 2, "columnPadding": 55, "title": null}}}},
        {"data": {"name": "fit"}, "mark": {"type": "line", "color": "#404040", "opacity": 0.9, "strokeWidth": 5, "interpolate": "monotone", "clip": true},
         "encoding": {"y": {"field": "v", "type": "quantitative", "scale": {"domain": [-9.49, 8.95], "nice": false, "zero": false},
           "axis": {"title": "Temperature", "values": [-7.5, -5, -2.5, 0, 2.5, 5, 7.5], "labelExpr": "format(datum.value, '.1f')", "minExtent": 117, "maxExtent": 117}}}},
        {"data": {"name": "note"}, "mark": {"type": "rect", "fill": "white", "stroke": "black", "strokeWidth": 2.5},
         "encoding": {"x2": {"field": "t2"},
           "y": {"field": "v", "type": "quantitative", "scale": {"domain": [-9.49, 8.95], "nice": false, "zero": false},
             "axis": {"title": "Temperature", "values": [-7.5, -5, -2.5, 0, 2.5, 5, 7.5], "labelExpr": "format(datum.value, '.1f')", "minExtent": 117, "maxExtent": 117}},
           "y2": {"field": "v2"}}},
        {"data": {"name": "note"}, "mark": {"type": "text", "lineBreak": "\n", "lineHeight": 30.5, "align": "center", "baseline": "top", "font": "DejaVu Sans", "fontSize": 26, "color": "black"},
         "encoding": {"x": {"field": "tc", "type": "quantitative", "scale": {"domain": [45.74, 293.75], "nice": false, "zero": false},
             "axis": {"values": [60, 75, 90, 105, 120, 135, 150, 165, 180, 195, 210, 225, 240, 255, 270, 285], "grid": true, "gridColor": "#b0b0b0", "gridWidth": 2,
               "gridDash": {"condition": {"test": "datum.value % 60 == 0", "value": [1, 0]}, "value": [8, 6]}, "domain": false, "tickColor": "black",
               "tickWidth": {"condition": {"test": "datum.value % 60 == 0", "value": 3}, "value": 2},
               "tickSize": {"condition": {"test": "datum.value % 60 == 0", "value": 28}, "value": -7}, "labels": false, "title": null}},
           "y": {"field": "vc", "type": "quantitative", "scale": {"domain": [-9.49, 8.95], "nice": false, "zero": false},
             "axis": {"title": "Temperature", "values": [-7.5, -5, -2.5, 0, 2.5, 5, 7.5], "labelExpr": "format(datum.value, '.1f')", "minExtent": 117, "maxExtent": 117}},
           "text": {"field": "label"}}}
      ]
    },
    {
      "width": 1796, "height": 670,
      "encoding": {"x": {"field": "t", "type": "quantitative", "scale": {"domain": [45.74, 293.75], "nice": false, "zero": false},
        "axis": {"values": [60, 75, 90, 105, 120, 135, 150, 165, 180, 195, 210, 225, 240, 255, 270, 285], "grid": true, "gridColor": "#b0b0b0", "gridWidth": 2,
          "gridDash": {"condition": {"test": "datum.value % 60 == 0", "value": [1, 0]}, "value": [8, 6]}, "domain": false, "tickColor": "black",
          "tickWidth": {"condition": {"test": "datum.value % 60 == 0", "value": 3}, "value": 2},
          "tickSize": {"condition": {"test": "datum.value % 60 == 0", "value": 28}, "value": -7}, "labels": false, "title": null}}},
      "layer": [
        {"data": {"name": "span"}, "mark": {"type": "rect", "color": "#ff0000", "opacity": 0.06}, "encoding": {"x2": {"field": "t2"}}},
        {"data": {"name": "edges"}, "mark": {"type": "rule", "color": "black", "strokeWidth": 2}},
        {"data": {"name": "limits"}, "mark": {"type": "rule", "color": "#808080", "strokeWidth": 3},
         "encoding": {"x": null, "y": {"field": "v", "type": "quantitative", "scale": {"domain": [4, 13.48], "nice": false, "zero": false},
           "axis": {"title": "Temperature", "values": [4, 6, 8, 10, 12], "minExtent": 84, "maxExtent": 84}}}},
        {"data": {"name": "ceah"}, "transform": [{"filter": "datum.s == '2CEAHVPT'"}],
         "mark": {"type": "line", "strokeWidth": 7.5, "interpolate": "step-after", "strokeJoin": "round", "clip": true},
         "encoding": {
           "y": {"field": "v", "type": "quantitative", "scale": {"domain": [4, 13.48], "nice": false, "zero": false},
             "axis": {"title": "Temperature", "values": [4, 6, 8, 10, 12], "minExtent": 84, "maxExtent": 84}},
           "color": {"field": "s", "type": "nominal", "scale": {"domain": ["2CEAHVPT", "Model"], "range": ["#1f77b4", "#ff7f0e"]},
             "legend": {"orient": "bottom-right", "title": null}}}},
        {"data": {"name": "ceah"}, "transform": [{"filter": "datum.s == 'Model'"}],
         "mark": {"type": "line", "strokeWidth": 6, "clip": true},
         "encoding": {
           "y": {"field": "v", "type": "quantitative", "scale": {"domain": [4, 13.48], "nice": false, "zero": false},
             "axis": {"title": "Temperature", "values": [4, 6, 8, 10, 12], "minExtent": 84, "maxExtent": 84}},
           "color": {"field": "s", "type": "nominal", "scale": {"domain": ["2CEAHVPT", "Model"], "range": ["#1f77b4", "#ff7f0e"]},
             "legend": {"orient": "bottom-right", "title": null}}}}
      ]
    },
    {
      "width": 1796, "height": 670,
      "encoding": {"x": {"field": "t", "type": "quantitative", "scale": {"domain": [45.74, 293.75], "nice": false, "zero": false},
        "axis": {"values": [60, 75, 90, 105, 120, 135, 150, 165, 180, 195, 210, 225, 240, 255, 270, 285], "grid": true, "gridColor": "#b0b0b0", "gridWidth": 2,
          "gridDash": {"condition": {"test": "datum.value % 60 == 0", "value": [1, 0]}, "value": [8, 6]}, "domain": false, "tickColor": "black",
          "tickWidth": {"condition": {"test": "datum.value % 60 == 0", "value": 3}, "value": 2},
          "tickSize": {"condition": {"test": "datum.value % 60 == 0", "value": 28}, "value": -7}, "labels": false, "title": null}}},
      "layer": [
        {"data": {"name": "span"}, "mark": {"type": "rect", "color": "#ff0000", "opacity": 0.06}, "encoding": {"x2": {"field": "t2"}}},
        {"data": {"name": "edges"}, "mark": {"type": "rule", "color": "black", "strokeWidth": 2}},
        {"data": {"name": "bands"}, "transform": [{"filter": "datum.s == 'b'"}], "mark": {"type": "area", "color": "#1f77b4", "clip": true},
         "encoding": {"y": {"field": "hi", "type": "quantitative", "scale": {"type": "log", "domain": [50, 9050], "nice": false},
           "axis": {"title": "Rate", "values": [60, 70, 80, 90, 100, 200, 300, 400, 500, 600, 700, 800, 900, 1000, 2000, 3000, 4000, 5000, 6000, 7000, 8000, 9000],
             "labelExpr": "datum.value == 100 ? '10²' : datum.value == 1000 ? '10³' : ''",
             "tickSize": {"condition": {"test": "datum.value == 100 || datum.value == 1000", "value": 28}, "value": 12},
             "tickWidth": {"condition": {"test": "datum.value == 100 || datum.value == 1000", "value": 3}, "value": 2}, "minExtent": 94, "maxExtent": 94}},
           "y2": {"field": "lo"}}},
        {"data": {"name": "bands"}, "transform": [{"filter": "datum.s == 'o'"}], "mark": {"type": "area", "color": "#ff7f0e", "clip": true},
         "encoding": {"y": {"field": "hi", "type": "quantitative", "scale": {"type": "log", "domain": [50, 9050], "nice": false},
           "axis": {"title": "Rate", "values": [60, 70, 80, 90, 100, 200, 300, 400, 500, 600, 700, 800, 900, 1000, 2000, 3000, 4000, 5000, 6000, 7000, 8000, 9000],
             "labelExpr": "datum.value == 100 ? '10²' : datum.value == 1000 ? '10³' : ''",
             "tickSize": {"condition": {"test": "datum.value == 100 || datum.value == 1000", "value": 28}, "value": 12},
             "tickWidth": {"condition": {"test": "datum.value == 100 || datum.value == 1000", "value": 3}, "value": 2}, "minExtent": 94, "maxExtent": 94}},
           "y2": {"field": "lo"}}},
        {"data": {"name": "bands"}, "transform": [{"filter": "datum.s == 'g'"}], "mark": {"type": "area", "color": "#2ca02c", "clip": true},
         "encoding": {"y": {"field": "hi", "type": "quantitative", "scale": {"type": "log", "domain": [50, 9050], "nice": false},
           "axis": {"title": "Rate", "values": [60, 70, 80, 90, 100, 200, 300, 400, 500, 600, 700, 800, 900, 1000, 2000, 3000, 4000, 5000, 6000, 7000, 8000, 9000],
             "labelExpr": "datum.value == 100 ? '10²' : datum.value == 1000 ? '10³' : ''",
             "tickSize": {"condition": {"test": "datum.value == 100 || datum.value == 1000", "value": 28}, "value": 12},
             "tickWidth": {"condition": {"test": "datum.value == 100 || datum.value == 1000", "value": 3}, "value": 2}, "minExtent": 94, "maxExtent": 94}},
           "y2": {"field": "lo"}}},
        {"data": {"name": "rate"}, "mark": {"type": "line", "strokeWidth": 2.4, "clip": true},
         "encoding": {
           "y": {"field": "v", "type": "quantitative", "scale": {"type": "log", "domain": [50, 9050], "nice": false},
             "axis": {"title": "Rate", "values": [60, 70, 80, 90, 100, 200, 300, 400, 500, 600, 700, 800, 900, 1000, 2000, 3000, 4000, 5000, 6000, 7000, 8000, 9000],
               "labelExpr": "datum.value == 100 ? '10²' : datum.value == 1000 ? '10³' : ''",
               "tickSize": {"condition": {"test": "datum.value == 100 || datum.value == 1000", "value": 28}, "value": 12},
               "tickWidth": {"condition": {"test": "datum.value == 100 || datum.value == 1000", "value": 3}, "value": 2}, "minExtent": 94, "maxExtent": 94}},
           "color": {"field": "s", "type": "nominal",
             "scale": {"domain": ["2TLEV1RT (145)", "2VLEV1RT (75)", "2SHEV1RT (3,046)", "Old Proxy", "New Proxy"], "range": ["#1f77b4", "#ff7f0e", "#2ca02c", "#9467bd", "#bcbd22"]},
             "legend": {"orient": "bottom-right", "title": null, "symbolStrokeWidth": 5}},
           "strokeDash": {"field": "s", "type": "nominal",
             "scale": {"domain": ["2TLEV1RT (145)", "2VLEV1RT (75)", "2SHEV1RT (3,046)", "Old Proxy", "New Proxy"], "range": [[1, 0], [1, 0], [1, 0], [5, 3], [3, 3]]},
             "legend": {"orient": "bottom-right", "title": null, "symbolStrokeWidth": 5}}}}
      ]
    },
    {
      "width": 1796, "height": 670,
      "encoding": {"x": {"field": "t", "type": "quantitative", "scale": {"domain": [45.74, 293.75], "nice": false, "zero": false},
        "axis": {"values": [60, 75, 90, 105, 120, 135, 150, 165, 180, 195, 210, 225, 240, 255, 270, 285], "grid": true, "gridColor": "#b0b0b0", "gridWidth": 2,
          "gridDash": {"condition": {"test": "datum.value % 60 == 0", "value": [1, 0]}, "value": [8, 6]}, "domain": false, "tickColor": "black",
          "tickWidth": {"condition": {"test": "datum.value % 60 == 0", "value": 3}, "value": 2},
          "tickSize": {"condition": {"test": "datum.value % 60 == 0", "value": 28}, "value": -7}, "labels": false, "title": null}}},
      "layer": [
        {"data": {"name": "span"}, "mark": {"type": "rect", "color": "#ff0000", "opacity": 0.06}, "encoding": {"x2": {"field": "t2"}}},
        {"data": {"name": "edges"}, "mark": {"type": "rule", "color": "black", "strokeWidth": 2}},
        {"data": {"name": "volt"}, "mark": {"type": "line", "strokeWidth": 7.5, "interpolate": "step-after", "strokeJoin": "round", "clip": true},
         "encoding": {
           "y": {"field": "v", "type": "quantitative", "scale": {"domain": [-20, 20], "nice": false, "zero": false},
             "axis": {"title": "Volt", "values": [-20, -15, -10, -5, 0, 5, 10, 15, 20], "minExtent": 108, "maxExtent": 108}},
           "color": {"field": "s", "type": "nominal", "scale": {"domain": ["2P15VAVL", "2N15VAVL", "2P05VAVL"], "range": ["#1f77b4", "#ff7f0e", "#2ca02c"]},
             "legend": {"orient": "top-right", "title": null}}}}
      ]
    },
    {
      "width": 1796, "height": 670,
      "encoding": {"x": {"field": "t", "type": "quantitative", "scale": {"domain": [45.74, 293.75], "nice": false, "zero": false},
        "axis": {"values": [60, 75, 90, 105, 120, 135, 150, 165, 180, 195, 210, 225, 240, 255, 270, 285], "grid": true, "gridColor": "#b0b0b0", "gridWidth": 2,
          "gridDash": {"condition": {"test": "datum.value % 60 == 0", "value": [1, 0]}, "value": [8, 6]}, "domain": false, "tickColor": "black",
          "tickWidth": {"condition": {"test": "datum.value % 60 == 0", "value": 3}, "value": 2},
          "tickSize": {"condition": {"test": "datum.value % 60 == 0", "value": 28}, "value": -7}, "labels": false, "title": null}}},
      "layer": [
        {"data": {"name": "span"}, "mark": {"type": "rect", "color": "#ff0000", "opacity": 0.06}, "encoding": {"x2": {"field": "t2"}}},
        {"data": {"name": "edges"}, "mark": {"type": "rule", "color": "black", "strokeWidth": 2}},
        {"data": {"name": "hvband"}, "transform": [{"filter": "datum.s == 'g'"}], "mark": {"type": "line", "color": "#2ca02c", "strokeWidth": 13, "strokeCap": "round"},
         "encoding": {"y": {"field": "v", "type": "quantitative", "scale": {"domain": [0, 266.1], "nice": false, "zero": false},
           "axis": {"title": "HV Monitor", "values": [0, 50, 100, 150, 200, 250], "minExtent": 101, "maxExtent": 101}}}},
        {"data": {"name": "hvband"}, "transform": [{"filter": "datum.s == 'r'"}], "mark": {"type": "line", "color": "#d62728", "strokeWidth": 11, "strokeCap": "round"},
         "encoding": {"y": {"field": "v", "type": "quantitative", "scale": {"domain": [0, 266.1], "nice": false, "zero": false},
           "axis": {"title": "HV Monitor", "values": [0, 50, 100, 150, 200, 250], "minExtent": 101, "maxExtent": 101}}}},
        {"data": {"name": "hvpts"}, "mark": {"type": "circle", "size": 85, "opacity": 1, "clip": true},
         "encoding": {
           "y": {"field": "v", "type": "quantitative", "scale": {"domain": [0, 266.1], "nice": false, "zero": false},
             "axis": {"title": "HV Monitor", "values": [0, 50, 100, 150, 200, 250], "minExtent": 101, "maxExtent": 101}},
           "color": {"field": "s", "type": "nominal", "scale": {"domain": ["2SPHBLV", "2SPHVLV", "2IMHVLV", "2IMHBLV"], "range": ["#1f77b4", "#ff7f0e", "#2ca02c", "#d62728"]},
             "legend": {"orient": "top-right", "title": null, "symbolType": "circle", "symbolSize": 64, "symbolStrokeWidth": 0, "symbolOffset": 24, "labelOffset": 47}}}}
      ]
    },
    {
      "width": 1796, "height": 670,
      "encoding": {"x": {"field": "t", "type": "quantitative", "scale": {"domain": [45.74, 293.75], "nice": false, "zero": false},
        "axis": {"values": [60, 75, 90, 105, 120, 135, 150, 165, 180, 195, 210, 225, 240, 255, 270, 285], "grid": true, "gridColor": "#b0b0b0", "gridWidth": 2,
          "gridDash": {"condition": {"test": "datum.value % 60 == 0", "value": [1, 0]}, "value": [8, 6]}, "domain": false, "tickColor": "black",
          "tickWidth": {"condition": {"test": "datum.value % 60 == 0", "value": 3}, "value": 2},
          "tickSize": {"condition": {"test": "datum.value % 60 == 0", "value": 28}, "value": -7}, "labels": false, "title": null}}},
      "layer": [
        {"data": {"name": "span"}, "mark": {"type": "rect", "color": "#ff0000", "opacity": 0.06}, "encoding": {"x2": {"field": "t2"}}},
        {"data": {"name": "edges"}, "mark": {"type": "rule", "color": "black", "strokeWidth": 2}},
        {"data": {"name": "det"}, "mark": {"type": "line", "strokeWidth": 7.5, "interpolate": "step-after", "strokeJoin": "round", "clip": true},
         "encoding": {
           "y": {"field": "v", "type": "quantitative", "scale": {"domain": [-2.48, 17.16], "nice": false, "zero": false},
             "axis": {"title": "Detector Temp", "values": [0, 2.5, 5, 7.5, 10, 12.5, 15], "labelExpr": "format(datum.value, '.1f')", "minExtent": 110, "maxExtent": 110}},
           "color": {"field": "s", "type": "nominal", "scale": {"domain": ["2SPINATM", "2SPHVATM", "2IMINATM", "2IMHVATM"], "range": ["#1f77b4", "#ff7f0e", "#2ca02c", "#d62728"]},
             "legend": {"orient": "top-right", "title": null}}}}
      ]
    },
    {
      "width": 1796, "height": 670,
      "encoding": {"x": {"field": "t", "type": "quantitative", "scale": {"domain": [45.74, 293.75], "nice": false, "zero": false},
        "axis": {"values": [60, 75, 90, 105, 120, 135, 150, 165, 180, 195, 210, 225, 240, 255, 270, 285], "grid": true, "gridColor": "#b0b0b0", "gridWidth": 2,
          "gridDash": {"condition": {"test": "datum.value % 60 == 0", "value": [1, 0]}, "value": [8, 6]}, "domain": false, "tickColor": "black",
          "tickWidth": {"condition": {"test": "datum.value % 60 == 0", "value": 3}, "value": 2},
          "tickSize": {"condition": {"test": "datum.value % 60 == 0", "value": 28}, "value": -7},
          "labels": true, "labelFont": "DejaVu Sans", "labelColor": "black", "labelOverlap": false, "labelFlush": false,
          "labelExpr": "datum.value % 60 == 0 ? '0' + floor(datum.value / 60) + 'h' : '' + (datum.value % 60)",
          "labelFontSize": {"condition": {"test": "datum.value % 60 == 0", "value": 26.5}, "value": 18},
          "labelPadding": {"condition": {"test": "datum.value % 60 == 0", "value": 8}, "value": 12},
          "title": "2024-09-10 (254)", "titleFont": "DejaVu Sans", "titleFontSize": 33, "titleFontWeight": "normal", "titlePadding": 6}}},
      "layer": [
        {"data": {"name": "span"}, "mark": {"type": "rect", "color": "#ff0000", "opacity": 0.06}, "encoding": {"x2": {"field": "t2"}}},
        {"data": {"name": "edges"}, "mark": {"type": "rule", "color": "black", "strokeWidth": 2}},
        {"data": {"name": "fea"}, "mark": {"type": "line", "strokeWidth": 7.5, "interpolate": "step-after", "strokeJoin": "round", "clip": true},
         "encoding": {
           "y": {"field": "v", "type": "quantitative", "scale": {"domain": [-10.73, -2.04], "nice": false, "zero": false},
             "axis": {"title": "FEA Temp", "values": [-10, -9, -8, -7, -6, -5, -4, -3], "minExtent": 106, "maxExtent": 106}},
           "color": {"field": "s", "type": "nominal", "scale": {"domain": ["2FHTRMZT", "2FRADPYT", "2FEPRATM", "2FE00ATM"], "range": ["#1f77b4", "#ff7f0e", "#2ca02c", "#d62728"]},
             "legend": {"orient": "top-left", "title": null}}}}
      ]
    }
  ],
  "config": {
    "font": "DejaVu Sans",
    "view": {"stroke": "black", "strokeWidth": 2.5},
    "axis": {"labelFlush": false, "labelColor": "black", "titleColor": "black"},
    "axisY": {"tickSize": 28, "tickWidth": 3, "tickColor": "black", "labelPadding": 12,
      "labelFont": "DejaVu Sans", "labelFontSize": 28, "labelOverlap": false,
      "titleFont": "DejaVu Sans", "titleFontSize": 26.5, "titleFontWeight": "normal", "titlePadding": 4, "domain": false, "grid": false},
    "legend": {"labelFont": "DejaVu Sans", "labelFontSize": 28, "labelColor": "black",
      "symbolType": "stroke", "symbolStrokeWidth": 7, "symbolSize": 3600, "rowPadding": 14, "labelOffset": 19, "padding": 10,
      "fillColor": "rgba(255,255,255,0.8)", "strokeColor": "#cccccc", "strokeWidth": 2, "cornerRadius": 8, "offset": 14, "labelLimit": 500}
  }
}
